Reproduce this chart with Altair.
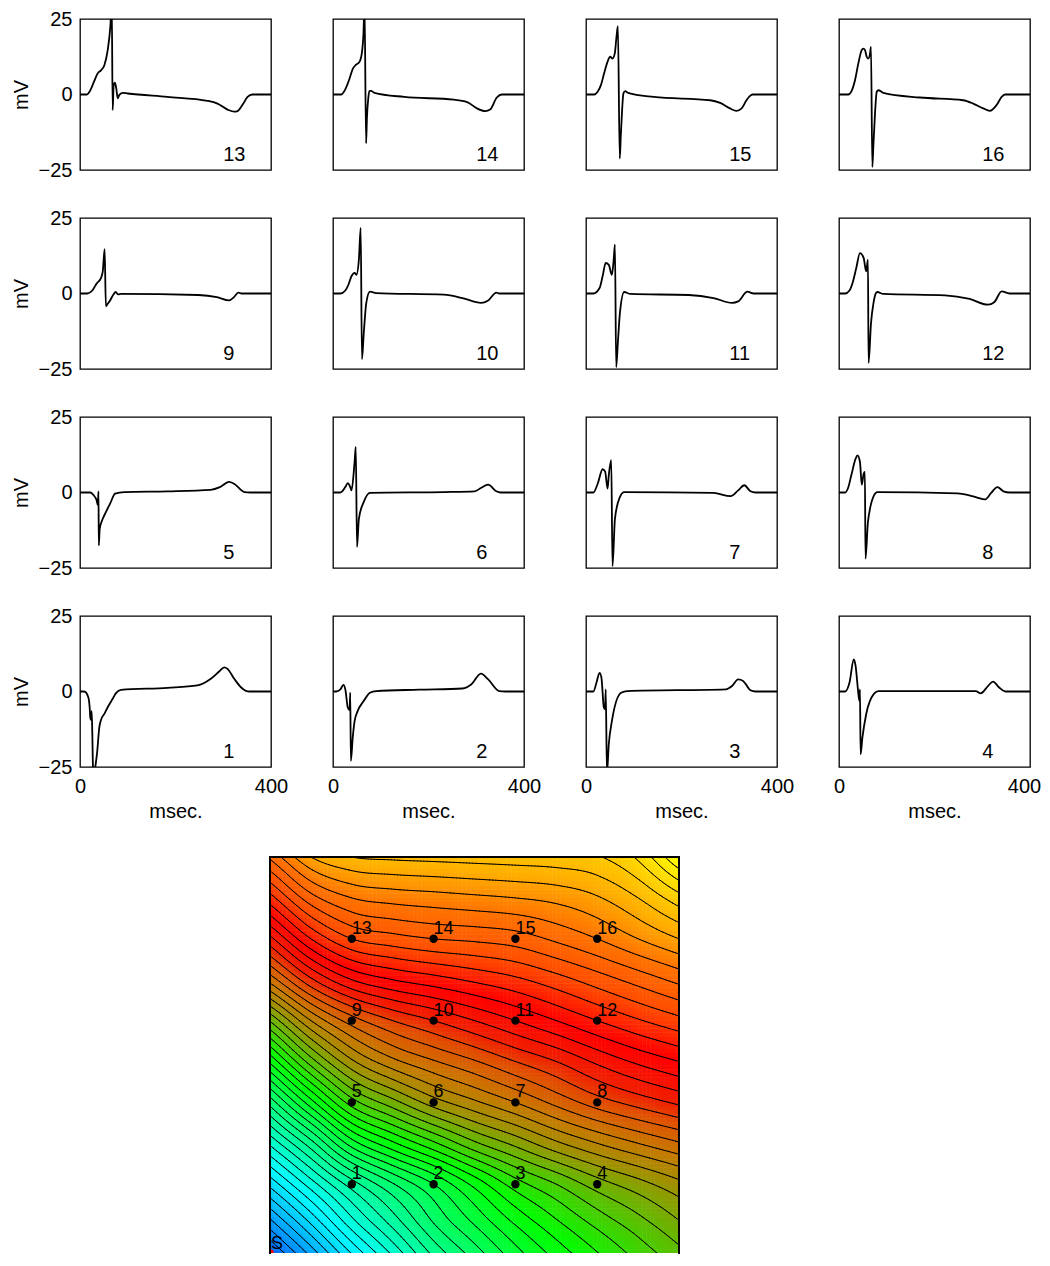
import math
import numpy as np
import pandas as pd
import altair as alt

alt.data_transformers.disable_max_rows()

FONT = "Liberation Sans"

# ---------------- electrogram traces (time in msec, potential in mV) ----------------
T1 = [0, 9, 17.4, 20.2, 21.6, 23, 24.4, 25.8, 27.2, 29.5, 32, 35.6, 40.5, 44, 51, 58, 68.4, 75.4, 86, 183.5, 246, 274, 292, 302, 309, 323, 337, 347.5, 354.5, 400]
V1 = [0, 0, -1.9, -5.2, -8.7, -9.4, -6.5, -14, -25, -28, -25, -20.6, -11.8, -9.4, -7.4, -5.2, -2.4, -0.55, 0.55, 1.2, 2, 4.2, 6.7, 8, 7.5, 4.2, 1.4, 0.2, 0, 0]
T2 = [0, 6.5, 15.5, 21.9, 25.8, 31, 34.8, 36.1, 37.4, 41.3, 45.2, 51.6, 64.5, 77.4, 90.3, 180.6, 271, 290, 309.7, 325, 348, 361, 400]
V2 = [0, 0, 0.7, 2.2, 0.7, -5.3, -6.2, -0.4, -23, -15.3, -9.8, -6.5, -3.1, -0.4, 0.15, 0.6, 1, 2.4, 5.9, 4, 0.15, 0, 0]
T3 = [0, 15.5, 21.9, 28.4, 32.3, 37.4, 40, 41.3, 43.9, 47.7, 54.2, 73.5, 86.5, 292.9, 305.8, 318.7, 329, 344.5, 354.8, 400]
V3 = [0, 0, 2.9, 6.2, 4.6, -5.3, -5.9, 0.7, -27, -17.5, -9.8, -0.4, 0.15, 0.7, 1.8, 4, 3.5, 0.4, 0, 0]
T4 = [0, 12.9, 21.9, 31, 34.8, 40, 42.6, 43.9, 45.2, 49, 56.8, 73.5, 82.6, 286.5, 296.8, 312, 322.6, 335.5, 348.4, 400]
V4 = [0, 0, 2.9, 10.6, 8.4, 0.15, -3.1, 0.7, -20.8, -15.3, -7.6, -0.7, 0.15, 0.15, -0.6, 1.8, 3.3, 1.3, 0, 0]
T5 = [0, 21.9, 28.4, 34.8, 37.4, 38.7, 39.4, 41.3, 47.7, 54.2, 63, 73.5, 92.9, 183, 273.5, 293, 312, 322.6, 344.5, 357, 400]
V5 = [0, 0, -0.9, -2.6, -4.2, 0.4, -17.5, -12, -8.7, -6.5, -3.7, -0.4, 0.15, 0.4, 0.9, 1.8, 3.5, 2.9, 0.15, 0, 0]
T6 = [0, 15.5, 25.8, 31, 36.1, 38.7, 45.2, 47.7, 50.3, 54.2, 64.5, 77.4, 232, 296.8, 309.7, 325, 342, 351, 400]
V6 = [0, 0, 1.8, 3.1, 1.8, 0.7, 10.1, 15.1, -18, -8.7, -3.1, -0.15, 0.15, 0.4, 1.5, 2.6, 0.4, 0, 0]
T7 = [0, 15.5, 24.5, 34.8, 40, 45.2, 47.7, 52.9, 55.5, 60.6, 71, 80, 267, 303, 318.7, 331.6, 344.5, 354.8, 400]
V7 = [0, 0, 2.9, 7.7, 7, 1.3, 5.7, 10.7, -24.4, -8.7, -1.5, 0.15, -0.15, -1.2, 0.7, 2.4, 0.4, 0, 0]
T8 = [0, 12.9, 19, 25.8, 34.8, 38.7, 43.9, 47.7, 51.6, 54.2, 55.5, 60.6, 73.5, 80, 247.7, 286.5, 305.8, 318.7, 331.6, 344.5, 357, 400]
V8 = [0, 0, 1.5, 5.7, 11.2, 12.3, 10.1, 2.6, 6.2, 6.8, -21.9, -9.8, -0.9, 0.15, -0.3, -1.5, -2.3, -0.15, 1.8, 0.4, 0, 0]
T9 = [0, 15.5, 25.8, 34.8, 43.9, 47.7, 51.6, 54.2, 58, 63, 69.7, 74.8, 80, 86.5, 247.7, 286.5, 312, 322.6, 331.6, 338, 400]
V9 = [0, 0, 1, 3.3, 5.1, 7.3, 14.7, -4.2, -3.4, -2.3, -0.4, 0.5, -0.3, -0.15, -0.5, -1.2, -2.3, -1.2, 0.3, 0, 0]
T10 = [0, 15.5, 25.8, 32.3, 38.7, 45.2, 49, 54.2, 58, 60.6, 64.5, 69.7, 77.4, 90.3, 232, 271, 310, 325, 342, 348, 400]
V10 = [0, 0, 1, 2.9, 5.7, 6.8, 6.2, 11.2, 21.7, -21.7, -13, -3.1, 0.6, 0.15, -0.4, -1.5, -3.1, -2.3, 0.3, 0, 0]
T11 = [0, 15.5, 28.4, 34.8, 41.3, 47.7, 54.2, 58, 60.6, 63.2, 67.1, 71, 80, 92.9, 215.5, 267, 306, 318.7, 338, 351, 400]
V11 = [0, 0, 1.8, 5.7, 10.1, 9.5, 6.2, 11.2, 16.2, -24.4, -15.3, -6.5, 0.5, -0.15, -0.5, -1.5, -3.1, -2.6, 0.6, 0, 0]
T12 = [0, 12.9, 21.9, 28.4, 36.1, 43.9, 51.6, 56.8, 60.6, 61.9, 67.1, 72.3, 77.4, 80, 92.9, 222, 273.5, 312, 325, 340.6, 357, 400]
V12 = [0, 0, 1, 3.5, 8.4, 13.4, 11.8, 7.3, 11.2, -23, -9.7, -3.1, 0.15, 0.5, -0.15, -0.6, -1.8, -3.7, -2.9, 0.7, 0, 0]
T13 = [0, 14.7, 19.5, 30, 37, 44, 51, 58, 63.5, 66.5, 68.4, 70.5, 73, 76, 79, 82, 89, 100, 183, 267, 288, 309, 323, 330, 340, 351, 361, 400]
V13 = [0, 0, 0.8, 4.5, 7, 8, 9.7, 14.7, 22.4, 30, -5.2, 3.1, 3.9, 2, -1.3, -0.2, 0.55, 0.33, -0.8, -2.1, -3, -5, -5.7, -5.5, -3.5, -0.8, 0, 0]
T14 = [0, 17.3, 24, 34.7, 41.6, 48.5, 55.5, 60.3, 63.8, 66, 69.3, 71, 74, 76.3, 79.7, 86.7, 149, 253, 281, 301.5, 319, 329, 343, 353.5, 400]
V14 = [0, 0, 1.2, 5.3, 8.6, 9.9, 10.8, 13.6, 20.2, 30, -16.2, -8, -1, 1.2, 1.2, 0.55, -0.8, -1.7, -2.5, -4.6, -5.5, -5, -1, 0, 0]
T15 = [0, 17.3, 24.3, 31.2, 38, 45, 50.6, 55.5, 60.3, 63.8, 66.8, 70.7, 72.8, 75.6, 78.3, 81.8, 88, 142, 260, 281, 301.5, 315, 326, 336, 343, 349, 400]
V15 = [0, 0, 0.9, 3.1, 7, 10.8, 12.5, 11.9, 13.6, 19, 22.6, -21.2, -14, -5.2, 0.3, 1.1, 0.55, -0.8, -1.9, -2.8, -4.6, -5.4, -4.6, -1.9, -0.55, 0, 0]
T16 = [0, 19.5, 26.5, 33.5, 40.5, 47.5, 51, 54.5, 58, 61.4, 65, 67, 69.8, 71.9, 75.4, 79, 82.4, 92.8, 169.6, 260, 281, 302, 316, 330, 340.6, 347.6, 400]
V16 = [0, 0, 1.2, 4.7, 10.3, 14.7, 15.2, 14.7, 12.5, 11.9, 13.6, 15.8, -24, -17.3, -6.3, 0.9, 1.4, 0.55, -1, -1.9, -3, -4.6, -5.4, -3.5, -0.8, 0, 0]

PANEL_ROWS = [[13, 14, 15, 16], [9, 10, 11, 12], [5, 6, 7, 8], [1, 2, 3, 4]]
X_TICKS = [0, 400]
Y_TICKS = [-25, 0, 25]
LABEL_T = 300
LABEL_V = -20

# ---------------- activation map (read on a 0.5-unit grid, rows y = 0 ... 5) ----------------
ACT_Y0_0 = [0.5, 4.2, 8.0, 11.3, 14.5, 16.8, 19.0, 20.8, 22.4, 23.9, 25.2]
ACT_Y0_5 = [4.4, 7.9, 11.4, 14.2, 16.9, 19.0, 21.0, 22.7, 24.2, 25.5, 26.8]
ACT_Y1_0 = [8.3, 11.5, 14.5, 16.9, 19.0, 21.3, 23.5, 25.0, 26.5, 27.6, 28.7]
ACT_Y1_5 = [12.2, 15.6, 19.5, 21.8, 23.8, 25.8, 27.3, 28.8, 30.0, 31.0, 31.9]
ACT_Y2_0 = [16.4, 20.6, 24.5, 26.6, 28.5, 29.8, 31.0, 32.3, 33.5, 34.4, 35.2]
ACT_Y2_5 = [21.2, 25.5, 28.8, 30.7, 31.9, 32.9, 34.0, 35.0, 36.2, 37.2, 38.0]
ACT_Y3_0 = [26.1, 30.0, 32.5, 34.0, 35.0, 36.0, 37.0, 38.0, 39.0, 39.9, 40.7]
ACT_Y3_5 = [31.4, 34.8, 37.0, 38.0, 38.6, 39.2, 39.8, 40.6, 41.5, 42.4, 43.3]
ACT_Y4_0 = [35.7, 39.0, 41.0, 41.6, 42.0, 42.2, 42.5, 43.2, 44.0, 45.0, 46.0]
ACT_Y4_5 = [39.6, 42.6, 44.0, 44.4, 44.6, 44.8, 45.0, 45.3, 45.9, 47.0, 48.6]
ACT_Y5_0 = [43.2, 46.0, 47.0, 47.2, 47.3, 47.4, 47.5, 47.6, 47.9, 49.2, 52.0]
GRID_STEP = 0.5
MAP_SIZE = 5.0

COLOR_LEVELS = [0, 10, 22, 26.5, 28.5, 31, 33.5, 35, 38, 41, 44, 46.5, 48.5, 52]
COLOR_HEX = ["#0040ff", "#00ffff", "#00ff00", "#70b000", "#a09000", "#c87800",
             "#e05000", "#f02000", "#ff0000", "#ff4c00", "#ff7400", "#ffb000", "#ffd000", "#ffff00"]
CONTOUR_STEP = 1.0

ELEC_X = [1, 2, 3, 4, 1, 2, 3, 4, 1, 2, 3, 4, 1, 2, 3, 4]
ELEC_Y = [1, 1, 1, 1, 2, 2, 2, 2, 3, 3, 3, 3, 4, 4, 4, 4]
ELEC_LABEL = [str(i) for i in range(1, 17)]
STIM_X = [0]
STIM_Y = [0]
STIM_LABEL = ["S"]

TRACES = {1: (T1, V1), 2: (T2, V2), 3: (T3, V3), 4: (T4, V4), 5: (T5, V5), 6: (T6, V6),
          7: (T7, V7), 8: (T8, V8), 9: (T9, V9), 10: (T10, V10), 11: (T11, V11),
          12: (T12, V12), 13: (T13, V13), 14: (T14, V14), 15: (T15, V15), 16: (T16, V16)}

PANEL_W = 191
PANEL_H = 151
MAP_W = 409
MAP_H = 396                      # visible part of the map (page ends just below it)
PX_PER_UNIT = MAP_W / MAP_SIZE
Y_MIN = MAP_SIZE - MAP_H / PX_PER_UNIT


# ---------------- panels ----------------
def make_panel(k, show_x, show_y, last_col):
    t, v = TRACES[k]
    df = pd.DataFrame({"t": t, "v": v})
    xs = alt.Scale(domain=[0, 400], nice=False, zero=False)
    ys = alt.Scale(domain=[-25, 25], nice=False, zero=False)
    if show_x:
        extra = {}
        if last_col:
            # keep the right-most "400" inside the page width
            extra["labelOffset"] = {"condition": {"test": "datum.value == 400", "value": -6}, "value": 0}
        xax = alt.Axis(values=X_TICKS, ticks=False, domain=False, grid=False, labelFlush=False,
                       labelPadding=9, title="msec.", titlePadding=5, format="d", **extra)
    else:
        xax = None
    if show_y:
        yax = alt.Axis(values=Y_TICKS, ticks=False, domain=False, grid=False, labelFlush=False,
                       labelPadding=8, title="mV", titlePadding=7, format="d")
    else:
        yax = None
    X = alt.X("t:Q", scale=xs, axis=xax)
    Y = alt.Y("v:Q", scale=ys, axis=yax)
    line = alt.Chart(df).mark_line(color="black", strokeWidth=1.8, clip=True,
                                   interpolate="monotone").encode(x=X, y=Y)
    lab_df = pd.DataFrame({"t": [LABEL_T], "v": [LABEL_V], "lab": [str(k)]})
    lab = alt.Chart(lab_df).mark_text(align="left", baseline="middle", fontSize=20, font=FONT,
                                      color="black").encode(x=X, y=Y, text="lab:N")
    return alt.layer(line, lab).properties(width=PANEL_W, height=PANEL_H)


panels = []
for r, row in enumerate(PANEL_ROWS):
    for c, k in enumerate(row):
        panels.append(make_panel(k, r == 3, c == 0, c == 3))
grid = alt.concat(*panels, columns=4, spacing={"row": 48, "column": 62}, bounds="flush")

# ---------------- activation map ----------------
F = np.array([ACT_Y0_0, ACT_Y0_5, ACT_Y1_0, ACT_Y1_5, ACT_Y2_0, ACT_Y2_5,
              ACT_Y3_0, ACT_Y3_5, ACT_Y4_0, ACT_Y4_5, ACT_Y5_0], dtype=float)


def cr_axis(A, p, axis):
    A = np.moveaxis(A, axis, 0)
    n = A.shape[0]
    ext = np.concatenate([2 * A[:1] - A[1:2], A, 2 * A[-1:] - A[-2:-1]], axis=0)
    i = np.clip(np.floor(p).astype(int), 0, n - 2)
    t = (p - i)[:, None]
    t2, t3 = t * t, t * t * t
    w0 = -0.5 * t3 + t2 - 0.5 * t
    w1 = 1.5 * t3 - 2.5 * t2 + 1
    w2 = -1.5 * t3 + 2 * t2 + 0.5 * t
    w3 = 0.5 * t3 - 0.5 * t2
    out = w0 * ext[i] + w1 * ext[i + 1] + w2 * ext[i + 2] + w3 * ext[i + 3]
    return np.moveaxis(out, 0, axis)


def sample(xs, ys):
    g1 = cr_axis(F, np.asarray(xs) / GRID_STEP, 1)
    return cr_axis(g1, np.asarray(ys) / GRID_STEP, 0)


# colour raster
h = 0.05
n = int(round(MAP_SIZE / h))
cent = (np.arange(n) + 0.5) * h
Vc = sample(cent, cent)
eps = 0.006
rx, rx2, ry, ry2, rv = [], [], [], [], []
for j in range(n):
    if (j + 1) * h <= Y_MIN:
        continue
    for i in range(n):
        rx.append(round(i * h, 4))
        rx2.append(round(min(MAP_SIZE, (i + 1) * h + eps), 4))
        ry.append(round(max(Y_MIN, j * h), 4))
        ry2.append(round(min(MAP_SIZE, (j + 1) * h + eps), 4))
        rv.append(round(float(Vc[j, i]), 3))
raster = pd.DataFrame({"x": rx, "x2": rx2, "y": ry, "y2": ry2, "L": rv})

# contour lines (marching squares)
hc = 0.04
m = int(round(MAP_SIZE / hc))
nodes = np.linspace(0, MAP_SIZE, m + 1)
Fn = sample(nodes, nodes)
sx, sy, sx2, sy2 = [], [], [], []
for j in range(m):
    y0, y1 = nodes[j], nodes[j + 1]
    if y1 <= Y_MIN:
        continue
    for i in range(m):
        x0, x1 = nodes[i], nodes[i + 1]
        c = [(x0, y0, Fn[j, i]), (x1, y0, Fn[j, i + 1]), (x1, y1, Fn[j + 1, i + 1]), (x0, y1, Fn[j + 1, i])]
        vals = [q[2] for q in c]
        lo, hi = min(vals), max(vals)
        k0 = max(1, math.ceil(lo / CONTOUR_STEP))
        k1 = math.floor(hi / CONTOUR_STEP)
        for kk in range(k0, k1 + 1):
            L = kk * CONTOUR_STEP
            pts = []
            for a, b in ((0, 1), (1, 2), (2, 3), (3, 0)):
                xa, ya, va = c[a]
                xb, yb, vb = c[b]
                if (va < L) != (vb < L):
                    f = (L - va) / (vb - va)
                    pts.append((xa + f * (xb - xa), ya + f * (yb - ya)))
            for s in range(0, len(pts) - 1, 2):
                sx.append(round(pts[s][0], 4))
                sy.append(round(pts[s][1], 4))
                sx2.append(round(pts[s + 1][0], 4))
                sy2.append(round(pts[s + 1][1], 4))
segs = pd.DataFrame({"x": sx, "y": sy, "x2": sx2, "y2": sy2})

mxs = alt.Scale(domain=[0, MAP_SIZE], nice=False, zero=False)
mys = alt.Scale(domain=[Y_MIN, MAP_SIZE], nice=False, zero=False)
MX = alt.X("x:Q", scale=mxs, axis=None)
MY = alt.Y("y:Q", scale=mys, axis=None)

rect_layer = alt.Chart(raster).mark_rect(strokeWidth=0, clip=True).encode(
    x=MX, x2="x2:Q", y=MY, y2="y2:Q",
    color=alt.Color("L:Q", scale=alt.Scale(domain=COLOR_LEVELS, range=COLOR_HEX, interpolate="rgb"),
                    legend=None))
contour_layer = alt.Chart(segs).mark_rule(color="black", strokeWidth=1.0, strokeCap="round", clip=True).encode(
    x=MX, y=MY, x2="x2:Q", y2="y2:Q")
elec_df = pd.DataFrame({"x": ELEC_X, "y": ELEC_Y, "lab": ELEC_LABEL})
dots = alt.Chart(elec_df).mark_point(filled=True, color="black", size=70, opacity=1).encode(x=MX, y=MY)
dot_labels = alt.Chart(elec_df).mark_text(align="left", baseline="alphabetic", dx=0, dy=-5,
                                          fontSize=18, font=FONT, color="black").encode(
    x=MX, y=MY, text="lab:N")
stim_df = pd.DataFrame({"x": STIM_X, "y": [max(Y_MIN, v) for v in STIM_Y], "lab": STIM_LABEL})
stim_dot = alt.Chart(stim_df).mark_point(filled=True, color="red", size=60, opacity=1, clip=True).encode(x=MX, y=MY)
stim_text = alt.Chart(stim_df).mark_text(align="left", baseline="alphabetic", dx=1, dy=-4,
                                         fontSize=18, font=FONT, color="black").encode(
    x=MX, y=MY, text="lab:N")
frame_df = pd.DataFrame({"x": [0, 0, MAP_SIZE], "y": [Y_MIN, MAP_SIZE, MAP_SIZE],
                         "x2": [0, MAP_SIZE, MAP_SIZE], "y2": [MAP_SIZE, MAP_SIZE, Y_MIN]})
frame = alt.Chart(frame_df).mark_rule(color="black", strokeWidth=2, strokeCap="square").encode(
    x=MX, y=MY, x2="x2:Q", y2="y2:Q")

map_chart = alt.layer(rect_layer, contour_layer, dots, dot_labels, stim_text, stim_dot, frame).properties(
    width=MAP_W, height=MAP_H, view=alt.ViewBackground(strokeOpacity=0))

spacer = alt.Chart(pd.DataFrame({"a": [0]})).mark_point(opacity=0).encode(
    x=alt.X("a:Q", axis=None), y=alt.Y("a:Q", axis=None)).properties(
    width=190, height=20, view=alt.ViewBackground(strokeOpacity=0))

map_row = alt.hconcat(spacer, map_chart, spacing=0, bounds="flush")

chart = alt.vconcat(grid, map_row, spacing=33).properties(
    padding={"left": 2, "top": 0, "right": 0, "bottom": 0}
).configure_view(stroke="black", strokeWidth=1.3).configure_axis(
    labelFont=FONT, titleFont=FONT, labelFontSize=20, titleFontSize=20, titleFontWeight="normal",
    labelColor="black", titleColor="black"
).configure_text(font=FONT)

chart.save("out.html", embed_options={"renderer": "svg", "actions": False})
